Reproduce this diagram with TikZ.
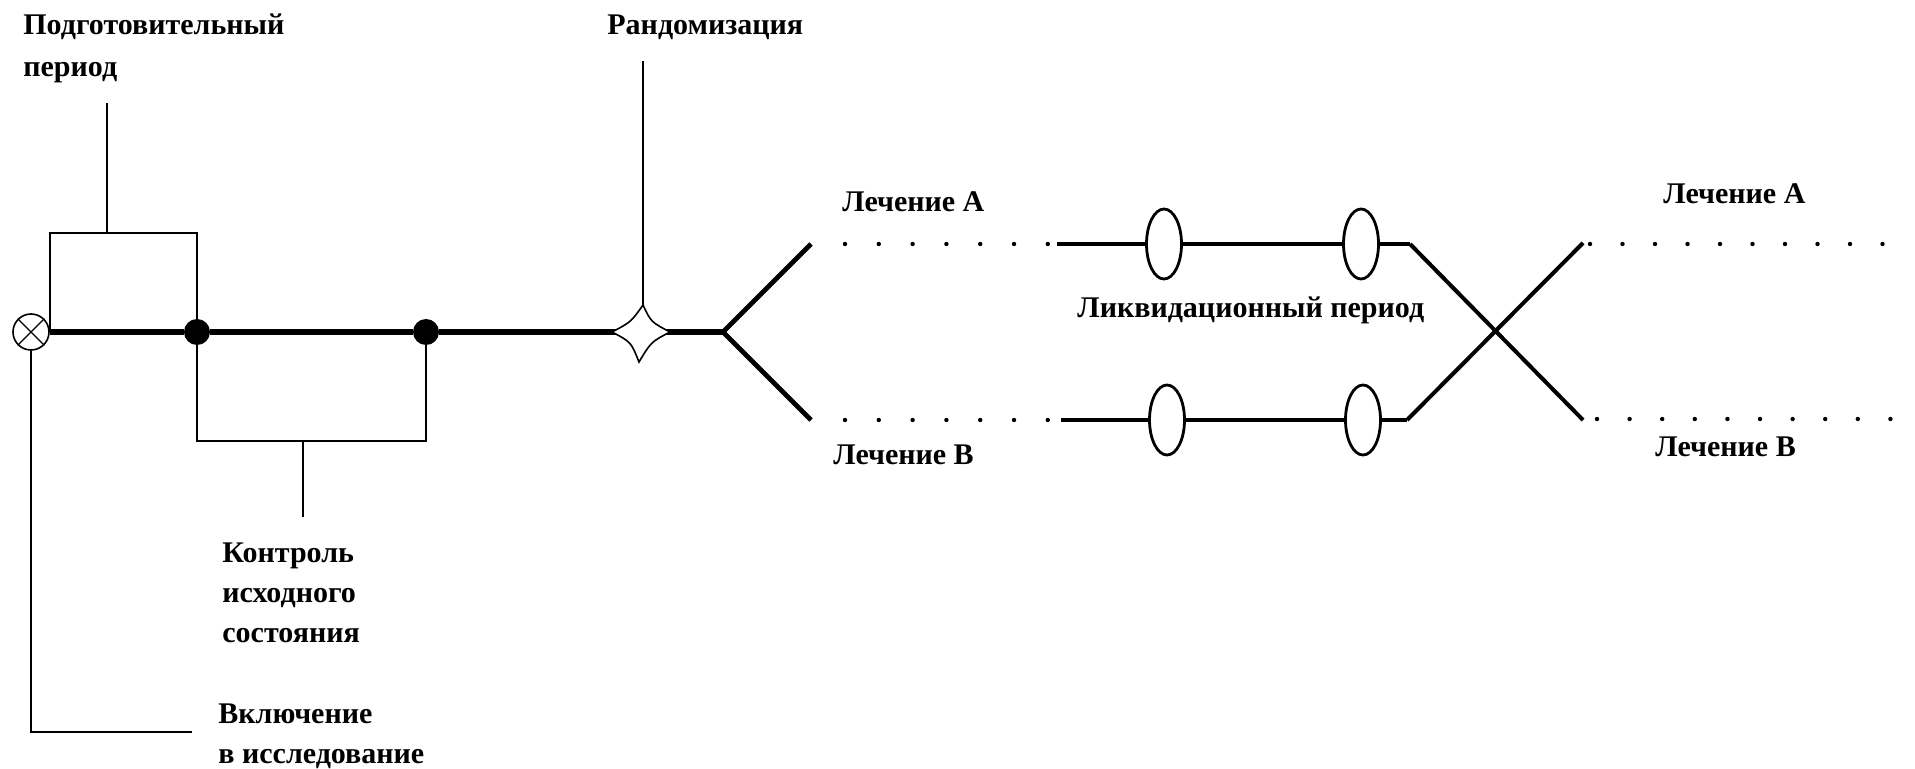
\documentclass[tikz,border=0pt]{standalone}
\usepackage{fontspec}
\setmainfont{Liberation Serif}
\usetikzlibrary{shapes.geometric}
\begin{document}
\begin{tikzpicture}[x=0.5pt,y=-0.5pt,
  lbl/.style={anchor=base west, inner sep=0pt, font=\fontsize{15}{20}\selectfont\bfseries},
  fine/.style={line width=1pt},
  heavy/.style={line width=3pt},
  arm/.style={line width=2.4pt},
  dotline/.style={line width=2.2pt, line cap=round, dash pattern=on 0pt off #1},
  bigdot/.style={circle, fill=black, minimum size=13pt, inner sep=0pt},
  wash/.style={ellipse, draw, fill=white, line width=1.4pt, minimum width=17.5pt, minimum height=35pt, inner sep=0pt},
]
\useasboundingbox (0,0) rectangle (1915,769);

% --- nodes on the time axis ---
\node[circle, draw, line width=0.8pt, minimum size=18pt, inner sep=0pt] (inc) at (31,332) {};
\draw[line width=0.6pt] (inc.45) -- (inc.225) (inc.135) -- (inc.315);
\node[bigdot] (d1) at (197,332) {};
\node[bigdot] (d2) at (426,332) {};
\coordinate (rand) at (641,332);
\coordinate (br) at (723,332);

% --- branch points and arms ---
\coordinate (ua) at (811,244);
\coordinate (la) at (811,420);
\coordinate (uadot) at (845,244);
\coordinate (uadotend) at (1048,244);
\coordinate (ladot) at (845,420);
\coordinate (ladotend) at (1048,420);
\coordinate (us) at (1057,244);
\coordinate (ls) at (1061,420);
\node[wash] (ea1) at (1164,244) {};
\node[wash] (ea2) at (1361,244) {};
\node[wash] (eb1) at (1167,420) {};
\node[wash] (eb2) at (1363,420) {};
\coordinate (ue) at (1410,244);
\coordinate (le) at (1407,420);
\coordinate (xd) at (1583,420);
\coordinate (xu) at (1583,243);
\coordinate (rua) at (1590,244);
\coordinate (ruaend) at (1915,244);
\coordinate (rlb) at (1597,419);
\coordinate (rlbend) at (1891,419);

% --- labels ---
\node[lbl] (prep1) at (23,35) {Подготовительный};
\node[lbl] (prep2) at (23,77) {период};
\node[lbl] (rnd) at (607,35) {Рандомизация};
\node[lbl] (trA) at (842,212) {Лечение А};
\node[lbl] (trB) at (833,465) {Лечение В};
\node[lbl] (wash) at (1077,318) {Ликвидационный период};
\node[lbl] (trA2) at (1663,204) {Лечение А};
\node[lbl] (trB2) at (1655,457) {Лечение В};
\node[lbl] (ctl1) at (222,562) {Контроль};
\node[lbl] (ctl2) at (222,602) {исходного};
\node[lbl] (ctl3) at (222,642) {состояния};
\node[lbl] (inc1) at (218,723) {Включение};
\node[lbl] (inc2) at (218,763) {в исследование};

% --- thin brackets and leader lines ---
\coordinate (preptop) at (107,233);
\coordinate (preplead) at (107,103);
\coordinate (basebot) at (303,441);
\coordinate (baselead) at (303,517);
\coordinate (incend) at (192,732);
\coordinate (randlead) at (643,61);
\coordinate (randtop) at (643,305);

\draw[fine] (inc.east) |- (preptop) -| (d1);
\draw[fine] (preplead) -- (preptop);
\draw[fine] (d1) |- (basebot) -| (d2);
\draw[fine] (basebot) -- (baselead);
\draw[fine] (inc.south) |- (incend);
\draw[line width=1.4pt] (randlead) -- (randtop);

% --- main axis ---
\draw[heavy] (inc.east) -- (d1) -- (d2) -- (rand) -- (br);

% randomisation mark: four-pointed star with concave sides
\begin{scope}[shift={(rand)}]
\draw[fill=white, line width=0.8pt]
  (2,-27) .. controls (10,-10) .. (29,0)
  .. controls (10,10) .. (-2,30)
  .. controls (-10,10) .. (-29,0)
  .. controls (-10,-10) .. (2,-27) -- cycle;
\end{scope}

% --- arms to the two treatment sequences ---
\draw[arm] (br) -- (ua);
\draw[arm] (br) -- (la);
\draw[dotline=16.9pt] (uadot) -- (uadotend);
\draw[dotline=16.9pt] (ladot) -- (ladotend);
\draw[arm] (us) -- (ea1) -- (ea2) -- (ue);
\draw[arm] (ls) -- (eb1) -- (eb2) -- (le);

% --- cross-over ---
\draw[line width=2pt] (ue) -- (xd);
\draw[line width=2pt] (le) -- (xu);
\draw[dotline=16.25pt] (rua) -- (ruaend);
\draw[dotline=16.3pt] (rlb) -- (rlbend);
\end{tikzpicture}
\end{document}
